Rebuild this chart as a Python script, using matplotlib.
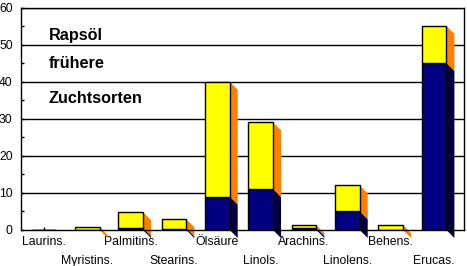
import matplotlib
matplotlib.use("Agg")
import matplotlib.pyplot as plt
from matplotlib.patches import Polygon

plt.rcParams['font.family'] = ['Liberation Sans', 'DejaVu Sans']

categories = ["Laurins.", "Myristins.", "Palmitins.", "Stearins.", "Ölsäure",
              "Linols.", "Arachins.", "Linolens.", "Behens.", "Erucas."]
lower = [0, 0, 0.5, 0.4, 9, 11, 0.5, 5, 0, 45]
totals = [0, 0.8, 4.8, 2.9, 40, 29, 1.3, 12, 1.3, 55]
upper = [t - l for t, l in zip(totals, lower)]
title_lines = ["Rapsöl", "frühere", "Zuchtsorten"]
yticks = [0, 10, 20, 30, 40, 50, 60]

navy = "#000080"
yellow = "#FFFF00"
orange = "#FF8000"
dark = "#000040"

fig = plt.figure(figsize=(4.67, 2.66), dpi=100)
ax = fig.add_axes([21 / 467, 1 - 230 / 266, 442.5 / 467, 222.5 / 266])

w = 0.57
dx = 0.185
dy = 2.16
x = list(range(len(categories)))

for v in yticks[1:]:
    ax.axhline(v, color="black", lw=1, zorder=1)

ax.bar(x, lower, width=w, color=navy, edgecolor="black", lw=1, zorder=3)
ax.bar(x, upper, width=w, bottom=lower, color=yellow, edgecolor="black", lw=1, zorder=3)

for xi, lo, tot in zip(x, lower, totals):
    xr = xi + w / 2
    if tot - lo > 0:
        ax.add_patch(Polygon([(xr, tot), (xr + dx, tot - dy), (xr + dx, lo - dy), (xr, lo)],
                             closed=True, facecolor=orange, edgecolor="none",
                             zorder=2.8, clip_on=False))
    if lo > 0:
        ax.add_patch(Polygon([(xr, lo), (xr + dx, lo - dy), (xr + dx, -dy), (xr, 0)],
                             closed=True, facecolor=dark, edgecolor="none",
                             zorder=2.8, clip_on=False))

ax.set_xlim(-0.53, 9.68)
ax.set_ylim(0, 60)
ax.set_yticks(yticks)
ax.set_yticks([5, 15, 25, 35, 45, 55], minor=True)
ax.set_xticks(x)
ax.set_xticklabels(categories, fontsize=8.8)
ax.tick_params(axis="y", which="both", direction="in", length=2.5, width=1,
               labelsize=8.8, pad=6)
ax.tick_params(axis="x", direction="in", length=2.5, width=1, pad=4)
for i, t in enumerate(ax.xaxis.get_major_ticks()):
    if i % 2 == 1:
        t.set_pad(18)
ax.set_axisbelow(False)
for s in ax.spines.values():
    s.set_color("black")
    s.set_linewidth(1)
    s.set_zorder(4)

ys = [0.854, 0.728, 0.571]
for line, yy in zip(title_lines, ys):
    ax.text(0.063, yy, line, transform=ax.transAxes, fontsize=11.7,
            fontweight="bold", va="baseline", ha="left", zorder=5)

fig.savefig("out.png", dpi=100)
